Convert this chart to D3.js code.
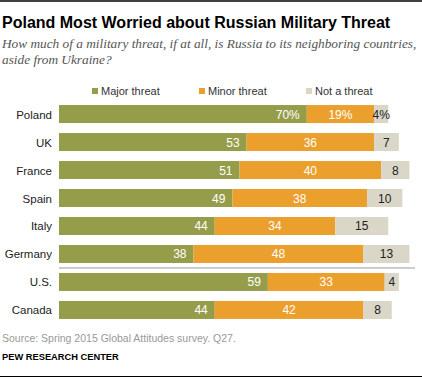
<!DOCTYPE html>
<html><head><meta charset="utf-8">
<script src="https://cdn.jsdelivr.net/npm/d3@7"></script>
<style>
body{margin:0;background:#fff;}
svg{display:block;}
</style></head>
<body>
<svg id="chart" width="422" height="379"></svg>
<script>
const countries = ["Poland","UK","France","Spain","Italy","Germany","U.S.","Canada"];
const major = [70,53,51,49,44,38,59,44];
const minor = [19,36,40,38,34,48,33,42];
const notThreat = [4,7,8,10,15,13,4,8];
const seriesNames = ["Major threat","Minor threat","Not a threat"];
const colors = ["#969d4a","#eba02d","#dad7c8"];

const svg = d3.select("#chart");
const font = "'Liberation Sans', Arial, sans-serif";

svg.append("line").attr("x1",0).attr("x2",422).attr("y1",1).attr("y2",1).attr("stroke","#000").attr("stroke-width",1.5);
svg.append("line").attr("x1",0).attr("x2",422).attr("y1",376.5).attr("y2",376.5).attr("stroke","#000").attr("stroke-width",1);

svg.append("text").attr("x",2).attr("y",28).attr("font-family",font).attr("font-weight","bold")
  .attr("font-size",16).attr("fill","#000").text("Poland Most Worried about Russian Military Threat");
const sub = svg.append("text").attr("font-family","'Liberation Serif', Georgia, serif").attr("font-style","italic")
  .attr("font-size",13.3).attr("fill","#555");
sub.append("tspan").attr("x",2).attr("y",48).text("How much of a military threat, if at all, is Russia to its neighboring countries,");
sub.append("tspan").attr("x",2).attr("y",64).text("aside from Ukraine?");

// legend
const legX = [92,199,306];
seriesNames.forEach((n,i)=>{
  svg.append("rect").attr("x",legX[i]).attr("y",88).attr("width",6).attr("height",6).attr("fill",colors[i]);
  svg.append("text").attr("x",legX[i]+9).attr("y",95).attr("font-family",font).attr("font-size",11)
    .attr("fill","#333").text(n);
});

const x = d3.scaleLinear().domain([0,100]).range([59,413]);
const y = d3.scaleBand().domain(countries).range([100,324]).paddingInner(0.357).paddingOuter(0.18);

const rows = countries.map((c,i)=>({c, vals:[major[i],minor[i],notThreat[i]], idx:i}));
const g = svg.append("g");
rows.forEach(r=>{
  let cum = 0;
  r.vals.forEach((v,j)=>{
    const x0 = x(cum), x1 = x(cum+v);
    g.append("rect").attr("x",x0).attr("y",y(r.c)).attr("width",x1-x0).attr("height",y.bandwidth()).attr("fill",colors[j]);
    const label = r.idx===0 ? v+"%" : String(v);
    const t = g.append("text").attr("y",y(r.c)+y.bandwidth()/2+4.5).attr("font-family",font).attr("font-size",12);
    if(j===0){ t.attr("x",x1-7).attr("text-anchor","end").attr("fill","#fff"); }
    else if(j===1){ t.attr("x",(x0+x1)/2).attr("text-anchor","middle").attr("fill","#fff"); }
    else { t.attr("x",(x0+x1)/2).attr("text-anchor","middle").attr("fill","#222"); }
    t.text(label);
    cum += v;
  });
  g.append("text").attr("x",52).attr("y",y(r.c)+y.bandwidth()/2+4.5).attr("text-anchor","end")
    .attr("font-family",font).attr("font-size",11.5).attr("fill","#222").text(r.c);
});

// separator between Germany and U.S.
const sepY = (y("Germany")+y.bandwidth()+y("U.S."))/2;
svg.append("line").attr("x1",59).attr("x2",415).attr("y1",sepY).attr("y2",sepY).attr("stroke","#999").attr("stroke-width",1);

svg.append("text").attr("x",2).attr("y",342).attr("font-family",font).attr("font-size",10.5).attr("fill","#999")
  .text("Source: Spring 2015 Global Attitudes survey. Q27.");
svg.append("text").attr("x",2).attr("y",360).attr("font-family",font).attr("font-size",9.3).attr("font-weight","bold").attr("fill","#000")
  .text("PEW RESEARCH CENTER");
</script>
</body></html>
